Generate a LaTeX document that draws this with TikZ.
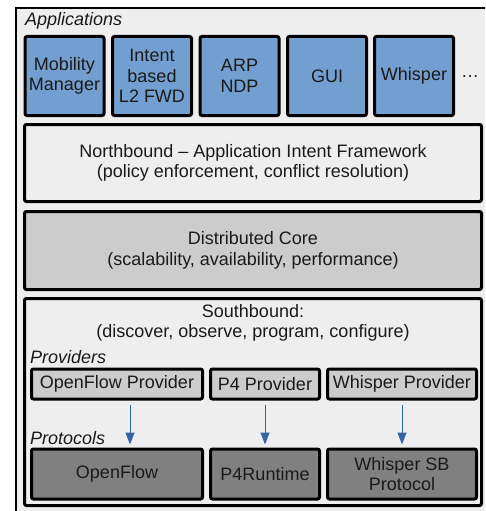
\documentclass[tikz,border=0pt]{standalone}
\usepackage{fontspec}
\setmainfont{Liberation Sans}
\usetikzlibrary{arrows.meta}
\definecolor{appblue}{HTML}{729FCF}
\definecolor{paneback}{HTML}{EEEEEE}
\definecolor{coregray}{HTML}{CCCCCC}
\definecolor{protogray}{HTML}{808080}
\definecolor{arrowblue}{HTML}{3465A4}
\definecolor{inktext}{HTML}{1A1A1A}
\tikzset{
  x=1pt, y=-1pt,
  every node/.style={font=\fontsize{18}{20.5}\selectfont, text=inktext, align=center, inner sep=0pt},
  layerbox/.style={draw=black, line width=3pt, rounded corners=2pt},
  app/.style={layerbox, fill=appblue, minimum width=79pt, minimum height=79pt},
  provider/.style={layerbox, fill=coregray, minimum height=30pt},
  protocol/.style={layerbox, fill=protogray, minimum height=50pt},
  tag/.style={anchor=west, font=\fontsize{18}{20.5}\selectfont\itshape},
  flow/.style={draw=arrowblue, line width=1pt, -{Triangle[width=9pt,length=12pt]}, shorten <=4pt, shorten >=3pt},
}
\begin{document}
\begin{tikzpicture}
\useasboundingbox (0,0) rectangle (485,511);
\clip (0,0) rectangle (485,511);
% outer frame of the controller
\draw[fill=paneback, line width=2pt] (16,8) rectangle (500,530);

% application layer
\node[tag] (apptag) at (25,21) {Applications};
\node[app] (mm)  at (64.5,76) {Mobility\\Manager};
\node[app] (ib)  at (152,76)  {Intent\\based\\L2 FWD};
\node[app] (arp) at (239.5,76) {ARP\\NDP};
\node[app] (gui) at (327,76)  {GUI};
\node[app] (wh)  at (414,76)  {Whisper};
\node (more) at (470,77) {\ldots};

% northbound and core layers
\node[layerbox, fill=paneback, minimum width=457pt, minimum height=77pt] (nb) at (253,163)
  {Northbound -- Application Intent Framework\\(policy enforcement, conflict resolution)};
\node[layerbox, fill=coregray, minimum width=457pt, minimum height=78pt] (core) at (253,250.5)
  {Distributed Core\\(scalability, availability, performance)};

% southbound layer
\node[layerbox, fill=paneback, minimum width=457pt, minimum height=207pt] (sb) at (253,402) {};
\node (sbtext) at (253,323) {Southbound:\\(discover, observe, program, configure)};

\node[tag] (provtag) at (30,357) {Providers};
\node[provider, minimum width=171pt] (ofp) at (117,384) {OpenFlow Provider};
\node[provider, minimum width=109pt] (p4p) at (265,384) {P4 Provider};
\node[provider, minimum width=149pt] (whp) at (402,384) {Whisper Provider};

\node[tag] (prottag) at (30,438) {Protocols};
\node[protocol, minimum width=171pt] (of) at (117,474) {OpenFlow};
\node[protocol, minimum width=109pt] (p4r) at (265,474) {P4Runtime};
\node[protocol, minimum width=149pt] (whs) at (402,474) {Whisper SB\\Protocol};

% provider to protocol arrows
\draw[flow] ([xshift=13pt]ofp.south) -- ([xshift=13pt]of.north);
\draw[flow] (p4p.south) -- (p4r.north);
\draw[flow] (whp.south) -- (whs.north);
\end{tikzpicture}
\end{document}
